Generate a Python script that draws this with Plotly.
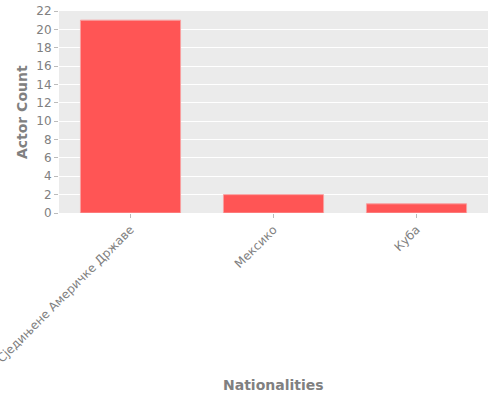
import plotly.graph_objects as go

nationalities = ["Сједињене Америчке Државе", "Мексико", "Куба"]
actor_counts = [21, 2, 1]

text_gray = "#808080"
title_font = dict(family="DejaVu Sans", size=14, color=text_gray)

fig = go.Figure(
    go.Bar(
        x=nationalities,
        y=actor_counts,
        width=0.7,
        marker=dict(color="#ff5555", line=dict(color="#f8a0a0", width=1)),
    )
)

# ggplot-like axes: grey panel, white grid, short grey ticks
axes_args = dict(
    ticks="outside",
    ticklen=4,
    tickwidth=1,
    tickcolor="#bbbbbb",
    tickfont=dict(family="DejaVu Sans", size=12, color=text_gray),
    zeroline=False,
    showline=False,
    automargin=False,
)

fig.update_xaxes(**axes_args, tickangle=-45, showgrid=False)
fig.update_yaxes(
    **axes_args,
    range=[0, 22],
    dtick=2,
    showgrid=True,
    gridcolor="white",
    gridwidth=1,
)

# axis titles as annotations so they sit where the reference puts them
fig.add_annotation(
    text="<b>Nationalities</b>",
    xref="paper", yref="paper",
    x=0.5, y=-0.85,
    xanchor="center", yanchor="middle",
    showarrow=False,
    font=title_font,
)
fig.add_annotation(
    text="<b>Actor Count</b>",
    xref="paper", yref="paper",
    x=-0.086, y=0.5,
    xanchor="center", yanchor="middle",
    textangle=-90,
    showarrow=False,
    font=title_font,
)

fig.update_layout(
    width=500,
    height=400,
    margin=dict(l=59, r=12, t=11, b=187),
    plot_bgcolor="#ebebeb",
    paper_bgcolor="white",
    bargap=0.3,
    showlegend=False,
)

# drop the default page margin so the figure fills the window
fig.write_html(
    "out.html",
    config={"displayModeBar": False},
    post_script="document.body.style.margin = '0';",
)
